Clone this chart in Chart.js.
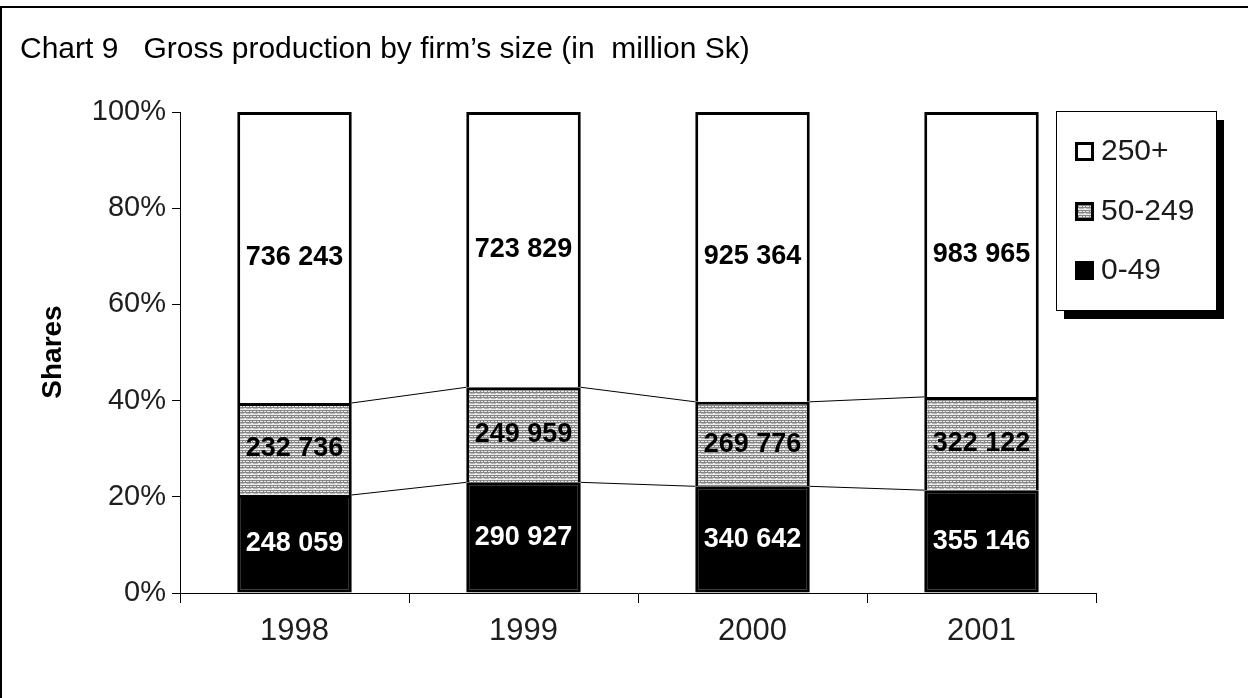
<!DOCTYPE html>
<html>
<head>
<meta charset="utf-8">
<script src="https://cdn.jsdelivr.net/npm/chart.js@4.4.1/dist/chart.umd.min.js"></script>
<style>
  html, body { margin: 0; padding: 0; background: #ffffff; }
  #wrap { position: relative; width: 1248px; height: 698px; }
  canvas { display: block; }
</style>
</head>
<body>
<div id="wrap"><canvas id="chart" width="1248" height="698"></canvas></div>
<script>
// Gross production by firm size, million Sk
const years = ['1998', '1999', '2000', '2001'];
const firmsSmall = [248059, 290927, 340642, 355146];   // 0-49 employees
const firmsMedium = [232736, 249959, 269776, 322122];  // 50-249 employees
const firmsLarge = [736243, 723829, 925364, 983965];   // 250+ employees
const seriesNames = ['0-49', '50-249', '250+'];
const shareTicks = [0, 20, 40, 60, 80, 100];

const FONT = "'Liberation Sans', Arial, sans-serif";

const totals = years.map((_, i) => firmsSmall[i] + firmsMedium[i] + firmsLarge[i]);
const toShare = arr => arr.map((v, i) => v / totals[i] * 100);
const rawValues = [firmsSmall, firmsMedium, firmsLarge];

function fmt(v) {
  return String(v).replace(/\B(?=(\d{3})+(?!\d))/g, ' ');
}

// small grey texture used for the middle band
function makePattern(ctx) {
  const t = document.createElement('canvas');
  t.width = 7; t.height = 5;
  const g = t.getContext('2d');
  g.fillStyle = '#ececec';
  g.fillRect(0, 0, 7, 5);
  g.fillStyle = '#858585';
  g.fillRect(0, 0, 7, 1);
  g.fillRect(0, 2, 7, 1);
  g.fillRect(0, 1, 1, 1);
  g.fillRect(4, 1, 1, 1);
  g.fillStyle = '#b4b4b4';
  g.fillRect(1, 3, 5, 1);
  return ctx.createPattern(t, 'repeat');
}

const canvas = document.getElementById('chart');
const ctx0 = canvas.getContext('2d');
const texture = makePattern(ctx0);

const fills = ['#000000', texture, '#ffffff'];

// page frame, title and rotated axis caption
const framePlugin = {
  id: 'frame',
  beforeDraw(chart) {
    const c = chart.ctx;
    c.save();
    c.fillStyle = '#ffffff';
    c.fillRect(0, 0, chart.width, chart.height);
    c.fillStyle = '#000000';
    c.fillRect(0, 6, chart.width, 2);
    c.fillRect(0, 6, 2, chart.height - 6);
    c.restore();
  },
  afterDraw(chart) {
    const c = chart.ctx;
    c.save();
    c.fillStyle = '#000000';
    c.font = '30px ' + FONT;
    c.textBaseline = 'middle';
    c.textAlign = 'left';
    c.fillText('Chart 9   Gross production by firm\u2019s size (in  million Sk)', 20, 50);
    c.translate(53, 352);
    c.rotate(-Math.PI / 2);
    c.textAlign = 'center';
    c.font = 'bold 28px ' + FONT;
    c.fillText('Shares', 0, 0);
    c.restore();
  }
};

// thin lines joining the band tops of neighbouring bars
const connectorPlugin = {
  id: 'connectors',
  afterDatasetsDraw(chart) {
    const c = chart.ctx;
    c.save();
    c.strokeStyle = '#000000';
    c.lineWidth = 1;
    for (let d = 0; d < 2; d++) {
      const els = chart.getDatasetMeta(d).data;
      for (let i = 0; i < els.length - 1; i++) {
        const a = els[i], b = els[i + 1];
        c.beginPath();
        c.moveTo(a.x + a.width / 2, a.y);
        c.lineTo(b.x - b.width / 2, b.y);
        c.stroke();
      }
    }
    c.restore();
  }
};

// value labels centred in each band
const valueLabelPlugin = {
  id: 'valueLabels',
  afterDatasetsDraw(chart) {
    const c = chart.ctx;
    c.save();
    c.font = 'bold 27px ' + FONT;
    c.textAlign = 'center';
    c.textBaseline = 'middle';
    chart.data.datasets.forEach((ds, d) => {
      chart.getDatasetMeta(d).data.forEach((el, i) => {
        c.fillStyle = d === 0 ? '#ffffff' : '#000000';
        c.fillText(fmt(rawValues[d][i]), el.x, (el.y + el.base) / 2);
      });
    });
    c.restore();
  }
};

// boxed legend with drop shadow
const legendPlugin = {
  id: 'boxLegend',
  afterDraw(chart) {
    const c = chart.ctx;
    const x = 1056, y = 111, w = 160, h = 199;
    c.save();
    c.fillStyle = '#000000';
    c.fillRect(x + 8, y + 9, w, h);
    c.fillStyle = '#ffffff';
    c.fillRect(x, y, w, h);
    c.strokeStyle = '#000000';
    c.lineWidth = 1;
    c.strokeRect(x + 0.5, y + 0.5, w, h);
    const rows = [2, 1, 0];
    const rowY = [151, 211, 270];
    c.font = '30px ' + FONT;
    c.textBaseline = 'middle';
    c.textAlign = 'left';
    rows.forEach((d, k) => {
      const cy = rowY[k];
      const mx = 1075, my = cy - 9, ms = 19;
      c.fillStyle = fills[d];
      c.fillRect(mx, my, ms, ms);
      c.strokeStyle = '#000000';
      c.lineWidth = 3;
      c.strokeRect(mx + 1.5, my + 1.5, ms - 3, ms - 3);
      c.fillStyle = '#1a1a1a';
      c.fillText(chart.data.datasets[d].label, 1101, cy + 1);
    });
    c.restore();
  }
};

const datasets = [
  {
    label: seriesNames[0],
    data: toShare(firmsSmall),
    backgroundColor: fills[0],
    borderColor: '#000000',
    borderWidth: 3
  },
  {
    label: seriesNames[1],
    data: toShare(firmsMedium),
    backgroundColor: fills[1],
    borderColor: '#000000',
    borderWidth: { top: 3, left: 3, right: 3, bottom: 0 }
  },
  {
    label: seriesNames[2],
    data: toShare(firmsLarge),
    backgroundColor: fills[2],
    borderColor: '#000000',
    borderWidth: { top: 3, left: 3, right: 3, bottom: 0 }
  }
];
datasets.forEach(ds => {
  ds.borderSkipped = false;
  ds.categoryPercentage = 1;
  ds.barPercentage = 0.5;
});

new Chart(canvas, {
  type: 'bar',
  data: { labels: years, datasets },
  options: {
    responsive: false,
    devicePixelRatio: 1,
    animation: false,
    layout: { padding: { left: 0, right: 152, top: 112, bottom: 0 } },
    plugins: {
      legend: { display: false },
      title: { display: false },
      tooltip: { enabled: false }
    },
    scales: {
      x: {
        stacked: true,
        afterFit(axis) { axis.height = 105; },
        grid: {
          offset: true,
          drawOnChartArea: false,
          drawTicks: true,
          tickLength: 10,
          color: '#000000',
          lineWidth: 1
        },
        border: { display: true, color: '#000000', width: 1 },
        ticks: {
          color: '#1e1e1e',
          font: { family: FONT, size: 31 },
          padding: 10
        }
      },
      y: {
        stacked: true,
        min: 0,
        max: 100,
        afterFit(axis) { axis.width = 180; },
        afterBuildTicks(axis) { axis.ticks = shareTicks.map(v => ({ value: v })); },
        grid: {
          drawOnChartArea: false,
          drawTicks: true,
          tickLength: 8,
          color: '#000000',
          lineWidth: 1
        },
        border: { display: true, color: '#000000', width: 1 },
        ticks: {
          color: '#1e1e1e',
          font: { family: FONT, size: 29 },
          padding: 6,
          callback: v => v + '%'
        }
      }
    }
  },
  plugins: [framePlugin, connectorPlugin, valueLabelPlugin, legendPlugin]
});
</script>
</body>
</html>
